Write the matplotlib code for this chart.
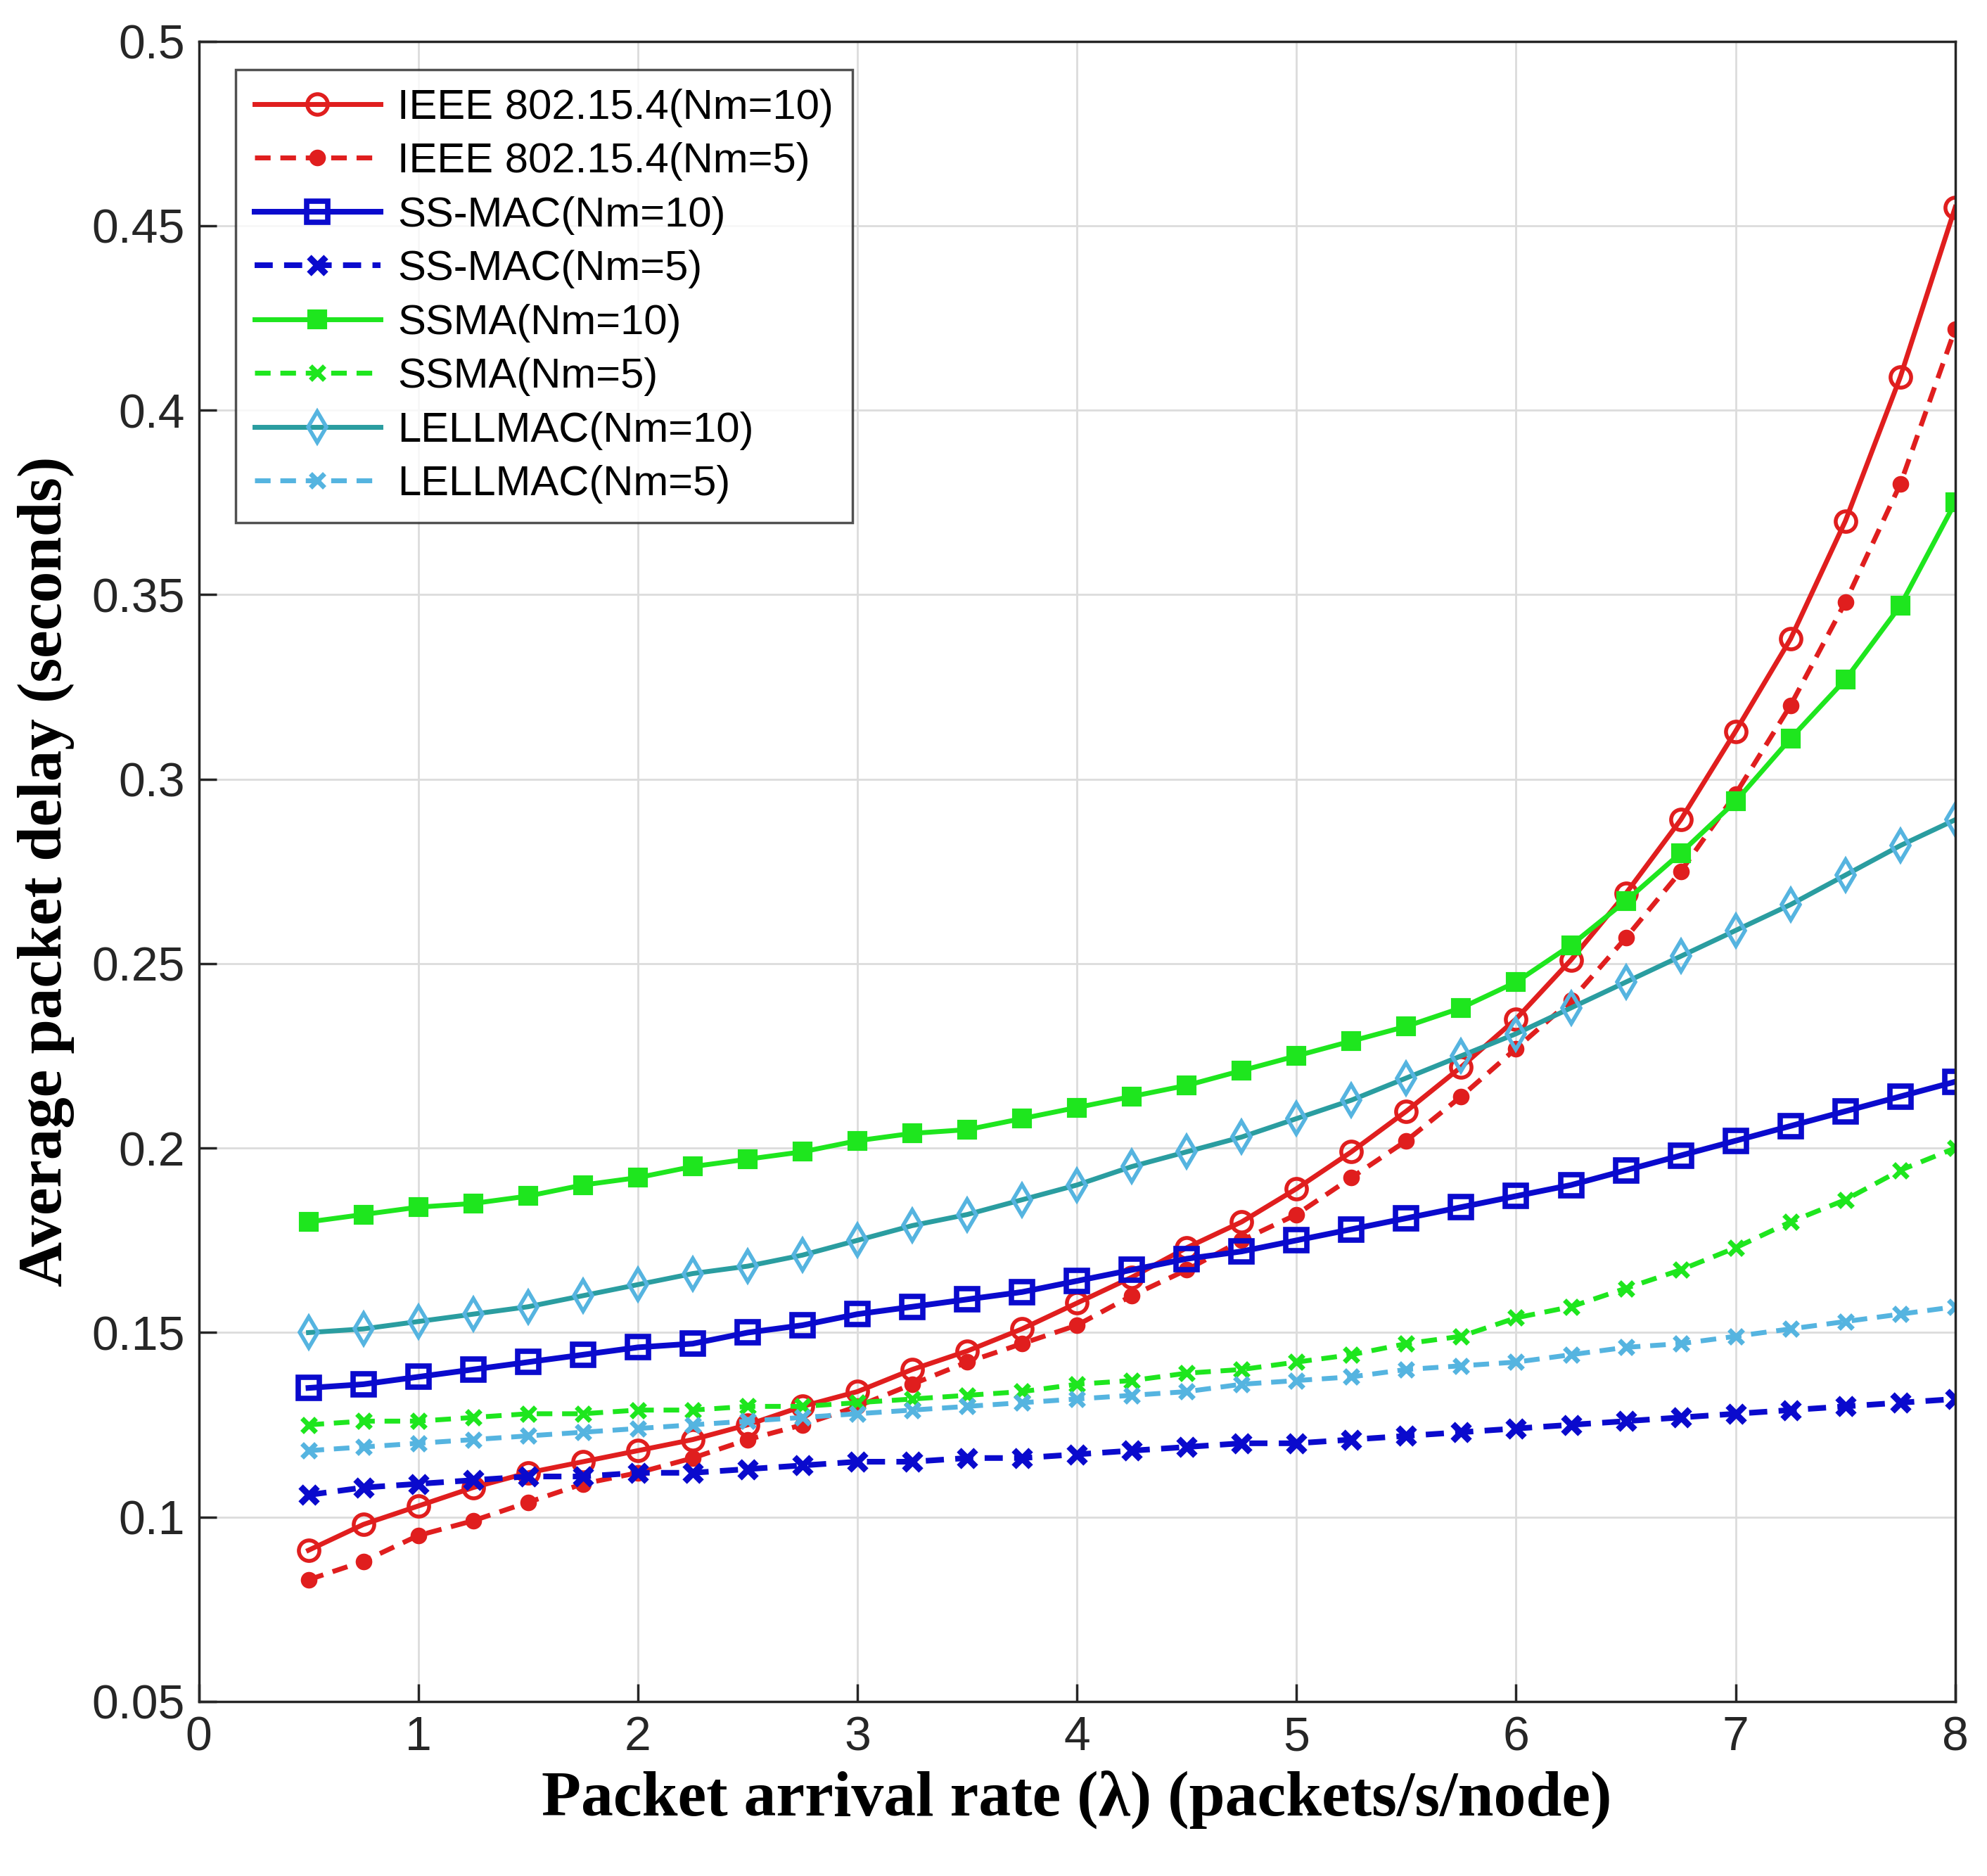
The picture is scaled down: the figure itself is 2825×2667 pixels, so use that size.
import numpy as np
import matplotlib
matplotlib.use("Agg")
import matplotlib.pyplot as plt

x = [0.5, 0.75, 1, 1.25, 1.5, 1.75, 2, 2.25, 2.5, 2.75, 3, 3.25, 3.5, 3.75, 4, 4.25,
     4.5, 4.75, 5, 5.25, 5.5, 5.75, 6, 6.25, 6.5, 6.75, 7, 7.25, 7.5, 7.75, 8]

ieee10 = [0.091, 0.098, 0.103, 0.108, 0.112, 0.115, 0.118, 0.121, 0.125, 0.130, 0.134,
          0.140, 0.145, 0.151, 0.158, 0.165, 0.173, 0.180, 0.189, 0.199, 0.210, 0.222,
          0.235, 0.251, 0.269, 0.289, 0.313, 0.338, 0.370, 0.409, 0.455]
ieee5 = [0.083, 0.088, 0.095, 0.099, 0.104, 0.109, 0.112, 0.116, 0.121, 0.125, 0.130,
         0.136, 0.142, 0.147, 0.152, 0.160, 0.167, 0.175, 0.182, 0.192, 0.202, 0.214,
         0.227, 0.240, 0.257, 0.275, 0.296, 0.320, 0.348, 0.380, 0.422]
ssmac10 = [0.135, 0.136, 0.138, 0.140, 0.142, 0.144, 0.146, 0.147, 0.150, 0.152, 0.155,
           0.157, 0.159, 0.161, 0.164, 0.167, 0.170, 0.172, 0.175, 0.178, 0.181, 0.184,
           0.187, 0.190, 0.194, 0.198, 0.202, 0.206, 0.210, 0.214, 0.218]
ssmac5 = [0.106, 0.108, 0.109, 0.110, 0.111, 0.111, 0.112, 0.112, 0.113, 0.114, 0.115,
          0.115, 0.116, 0.116, 0.117, 0.118, 0.119, 0.120, 0.120, 0.121, 0.122, 0.123,
          0.124, 0.125, 0.126, 0.127, 0.128, 0.129, 0.130, 0.131, 0.132]
ssma10 = [0.180, 0.182, 0.184, 0.185, 0.187, 0.190, 0.192, 0.195, 0.197, 0.199, 0.202,
          0.204, 0.205, 0.208, 0.211, 0.214, 0.217, 0.221, 0.225, 0.229, 0.233, 0.238,
          0.245, 0.255, 0.267, 0.280, 0.294, 0.311, 0.327, 0.347, 0.375]
ssma5 = [0.125, 0.126, 0.126, 0.127, 0.128, 0.128, 0.129, 0.129, 0.130, 0.130, 0.131,
         0.132, 0.133, 0.134, 0.136, 0.137, 0.139, 0.140, 0.142, 0.144, 0.147, 0.149,
         0.154, 0.157, 0.162, 0.167, 0.173, 0.180, 0.186, 0.194, 0.200]
lell10 = [0.150, 0.151, 0.153, 0.155, 0.157, 0.160, 0.163, 0.166, 0.168, 0.171, 0.175,
          0.179, 0.182, 0.186, 0.190, 0.195, 0.199, 0.203, 0.208, 0.213, 0.219, 0.225,
          0.231, 0.238, 0.245, 0.252, 0.259, 0.266, 0.274, 0.282, 0.289]
lell5 = [0.118, 0.119, 0.120, 0.121, 0.122, 0.123, 0.124, 0.125, 0.126, 0.127, 0.128,
         0.129, 0.130, 0.131, 0.132, 0.133, 0.134, 0.136, 0.137, 0.138, 0.140, 0.141,
         0.142, 0.144, 0.146, 0.147, 0.149, 0.151, 0.153, 0.155, 0.157]

labels = ["IEEE 802.15.4(Nm=10)", "IEEE 802.15.4(Nm=5)", "SS-MAC(Nm=10)", "SS-MAC(Nm=5)",
          "SSMA(Nm=10)", "SSMA(Nm=5)", "LELLMAC(Nm=10)", "LELLMAC(Nm=5)"]

xticks = [0, 1, 2, 3, 4, 5, 6, 7, 8]
yticks = [0.05, 0.1, 0.15, 0.2, 0.25, 0.3, 0.35, 0.4, 0.45, 0.5]
ytick_labels = ["0.05", "0.1", "0.15", "0.2", "0.25", "0.3", "0.35", "0.4", "0.45", "0.5"]

sans = "Liberation Sans"

red = "#E01E1E"
blue = "#0A0ACD"
green = "#1EE61E"
teal = "#2A9DA0"
lblue = "#55B4E0"

fig = plt.figure(figsize=(28.25, 26.67), dpi=100)
ax = fig.add_axes([0.100, 0.093, 0.884, 0.885])

lw = 5.0
dash = (0, (3.2, 2.0))
ax.plot(x, ieee10, color=red, lw=lw, ls='-', marker='o', ms=21, mfc='none', mew=4, label=labels[0])
ax.plot(x, ieee5, color=red, lw=lw, ls=dash, marker='o', ms=15, mfc=red, mew=2, label=labels[1])
ax.plot(x, ssmac10, color=blue, lw=lw + 0.8, ls='-', marker='s', ms=22, mfc='none', mew=5.5, label=labels[2])
ax.plot(x, ssmac5, color=blue, lw=lw + 0.8, ls=dash, marker='x', ms=17, mew=6.5, label=labels[3])
ax.plot(x, ssma10, color=green, lw=lw, ls='-', marker='s', ms=17, mfc=green, mew=3, label=labels[4])
ax.plot(x, ssma5, color=green, lw=lw, ls=dash, marker='x', ms=14, mew=5, label=labels[5])
ax.plot(x, lell10, color=teal, lw=lw, ls='-', marker='d', ms=22, mfc='none', mec=lblue, mew=4, label=labels[6])
ax.plot(x, lell5, color=lblue, lw=lw, ls=dash, marker='x', ms=14, mew=5, label=labels[7])

ax.set_xlim(0, 8)
ax.set_ylim(0.05, 0.5)
ax.set_xticks(xticks)
ax.set_xticklabels([str(t) for t in xticks])
ax.set_yticks(yticks)
ax.set_yticklabels(ytick_labels)
ax.grid(True, color='#DCDCDC', lw=2)
ax.set_axisbelow(True)
for s in ax.spines.values():
    s.set_linewidth(2.5)
    s.set_color('#262626')
ax.tick_params(axis='both', direction='in', length=18, width=2.5, labelsize=49,
               pad=14, colors='#262626', top=False, right=False)
for lab in ax.get_xticklabels() + ax.get_yticklabels():
    lab.set_family(sans)
    lab.set_color('#262626')

ax.set_xlabel("Packet arrival rate (λ) (packets/s/node)", family='Liberation Serif',
              fontweight='bold', fontsize=66, labelpad=10)
ax.set_ylabel("Average packet delay (seconds)", family='Liberation Serif',
              fontweight='bold', fontsize=64, labelpad=18)

leg = ax.legend(loc='upper left', bbox_to_anchor=(0.021, 0.983), prop={'family': sans, 'size': 43},
                frameon=True, fancybox=False, edgecolor='#262626', handlelength=3.0,
                labelspacing=0.36, borderpad=0.45, handletextpad=0.4, borderaxespad=0)
leg.get_frame().set_linewidth(2.5)

fig.savefig("out.png", dpi=100, facecolor='white')
